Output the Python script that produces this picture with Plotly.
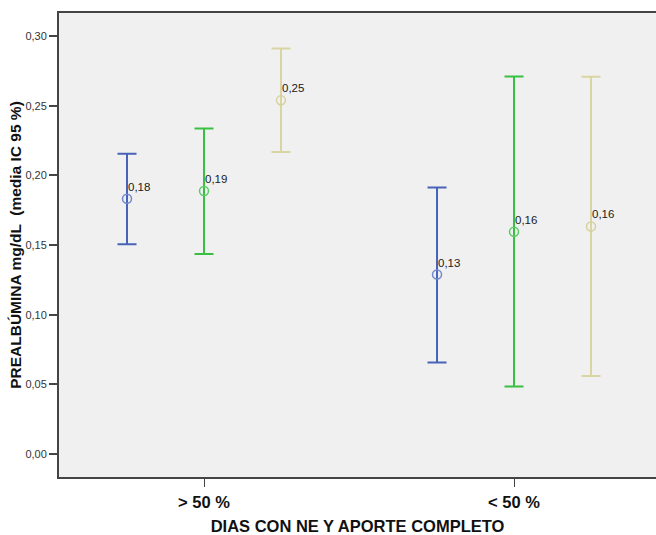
import plotly.graph_objects as go

categories = ["> 50 %", "< 50 %"]
series_names = ["A", "B", "C"]
means = {
    "A": [0.1832, 0.1288],
    "B": [0.1887, 0.1595],
    "C": [0.2538, 0.1633],
}
lower = {
    "A": [0.1505, 0.0656],
    "B": [0.1436, 0.0484],
    "C": [0.2168, 0.0560],
}
upper = {
    "A": [0.2154, 0.1912],
    "B": [0.2336, 0.2709],
    "C": [0.2910, 0.2707],
}
line_colors = {"A": "#4862B8", "B": "#38C043", "C": "#D9D5A2"}
marker_colors = {"A": "#7088D0", "B": "#5CCB64", "C": "#D6D19C"}
y_ticks = [0.0, 0.05, 0.10, 0.15, 0.20, 0.25, 0.30]

font_family = "Liberation Sans, Arial, sans-serif"

fig = go.Figure()
for s in series_names:
    m = means[s]
    fig.add_trace(go.Scatter(
        x=categories,
        y=m,
        mode="markers",
        offsetgroup=s,
        marker=dict(symbol="circle-open", size=9, color=marker_colors[s],
                    line=dict(width=1.5, color=marker_colors[s])),
        error_y=dict(type="data", symmetric=False,
                     array=[u - v for u, v in zip(upper[s], m)],
                     arrayminus=[v - l for v, l in zip(m, lower[s])],
                     color=line_colors[s], thickness=2, width=9.5),
        showlegend=False,
        hoverinfo="skip",
    ))

gap = 0.255
fig.update_layout(scattermode="group", scattergap=gap)

# value labels at the grouped positions
slot = (1 - gap) / len(series_names)
for i, s in enumerate(series_names):
    off = (i - (len(series_names) - 1) / 2) * slot
    for j, v in enumerate(means[s]):
        fig.add_annotation(
            x=j + off, y=v, xref="x", yref="y",
            text=f"{v:.2f}".replace(".", ","),
            showarrow=False, xanchor="left", yanchor="middle",
            xshift=-1, yshift=12,
            font=dict(family=font_family, size=11.5, color="#1a1a1a"),
        )

fig.update_layout(
    width=656, height=535,
    margin=dict(l=59, r=0, t=13, b=58),
    paper_bgcolor="white",
    plot_bgcolor="#F0F0F0",
    separators=",.",
    font=dict(family=font_family, color="#222"),
    xaxis=dict(
        type="category",
        range=[-0.4677, 1.458],
        showgrid=False, zeroline=False,
        showline=True, linecolor="#444", linewidth=2, mirror=True,
        ticks="outside", ticklen=8, tickcolor="#444", tickwidth=1,
        ticklabelstandoff=1,
        tickfont=dict(family=font_family, size=16.5, color="#111", weight="bold"),
        title=dict(text="<b>DIAS CON NE Y APORTE COMPLETO</b>", standoff=11,
                   font=dict(family=font_family, size=16.5, color="#111")),
    ),
    yaxis=dict(
        range=[-0.0165, 0.3165],
        tickvals=y_ticks, tickformat=".2f",
        showgrid=False, zeroline=False,
        showline=True, linecolor="#444", linewidth=2,
        ticks="outside", ticklen=8, tickcolor="#444", tickwidth=1.5,
        tickfont=dict(family=font_family, size=11, color="#333"),
        title=dict(text="<b>PREALBÚMINA mg/dL  (media IC 95 %)</b>", standoff=0,
                   font=dict(family=font_family, size=15.5, color="#111")),
    ),
)

fig.write_html(
    "out.html",
    config={"displayModeBar": False},
    post_script="document.body.style.margin='0';document.body.style.overflow='hidden';",
)
